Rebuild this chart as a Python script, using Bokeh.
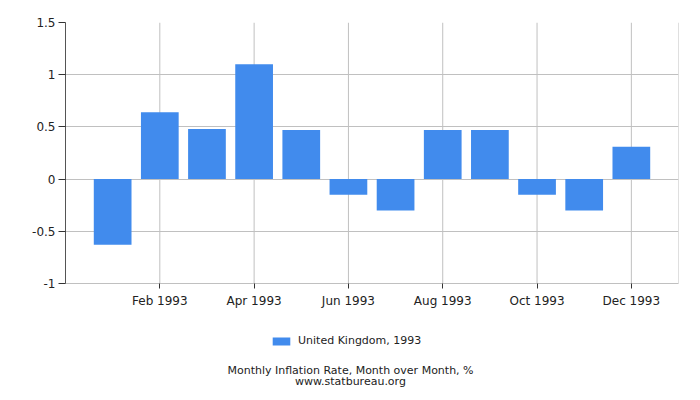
from bokeh.plotting import figure
from bokeh.models import Range1d, FixedTicker, Legend, LegendItem, Label, ColumnDataSource
from bokeh.embed import file_html
from bokeh.resources import INLINE

months = ["Jan 1993", "Feb 1993", "Mar 1993", "Apr 1993", "May 1993", "Jun 1993",
          "Jul 1993", "Aug 1993", "Sep 1993", "Oct 1993", "Nov 1993", "Dec 1993"]
values = [-0.63, 0.64, 0.48, 1.10, 0.47, -0.15, -0.30, 0.47, 0.47, -0.15, -0.30, 0.31]
y_ticks = [-1, -0.5, 0, 0.5, 1, 1.5]
y_tick_labels = ["-1", "-0.5", "0", "0.5", "1", "1.5"]
series_name = "United Kingdom, 1993"
title_text = "Monthly Inflation Rate, Month over Month, %"
source_text = "www.statbureau.org"

FONT = "DejaVu Sans"
BAR = "#418BED"
GRID = "#c0c0c0"

X_MIN, X_MAX = 0, len(months) + 1
Y_MIN, Y_MAX = y_ticks[0], y_ticks[-1]
FRAME_H = 370
PLOT_H = 261
y_start = Y_MAX - (Y_MAX - Y_MIN) * FRAME_H / PLOT_H

xs = list(range(1, len(months) + 1))
src = ColumnDataSource(dict(x=xs, top=values, label=months))

p = figure(frame_width=613, frame_height=FRAME_H, output_backend="svg", toolbar_location=None,
           x_range=Range1d(X_MIN, X_MAX), y_range=Range1d(y_start, Y_MAX),
           min_border_left=65, min_border_right=22, min_border_top=22, min_border_bottom=0)
p.background_fill_color = "white"
p.border_fill_color = "white"
p.outline_line_color = None

tick_x = xs[1::2]
vx = tick_x + [X_MAX]
p.segment(x0=vx, y0=[Y_MIN] * len(vx), x1=vx, y1=[Y_MAX] * len(vx),
          line_color=GRID, line_width=1)

r = p.vbar(x="x", top="top", bottom=0, width=0.8, source=src, fill_color=BAR, line_color=None)

p.xaxis.ticker = FixedTicker(ticks=tick_x)
p.xaxis.major_label_overrides = {x: months[x - 1] for x in tick_x}
p.xaxis.fixed_location = Y_MIN
p.xaxis.bounds = (X_MIN, X_MAX)
p.xgrid.visible = False
p.yaxis.ticker = FixedTicker(ticks=y_ticks)
p.yaxis.major_label_overrides = {t: l for t, l in zip(y_ticks, y_tick_labels)}
p.yaxis.bounds = (Y_MIN, Y_MAX)
p.ygrid.ticker = FixedTicker(ticks=y_ticks)
p.ygrid.grid_line_color = GRID

for ax in (p.xaxis[0], p.yaxis[0]):
    ax.major_label_text_font = FONT
    ax.major_label_text_font_size = "12px"
    ax.major_label_text_color = "#222222"
    ax.minor_tick_line_color = None
    ax.major_tick_in = 0
    ax.major_tick_line_color = "#333333"
p.xaxis.axis_line_color = GRID
p.yaxis.axis_line_color = "#555555"
p.xaxis.major_tick_out = 5
p.yaxis.major_tick_out = 7
p.xaxis.major_label_standoff = 5
p.yaxis.major_label_standoff = 3

legend = Legend(items=[LegendItem(label=series_name, renderers=[r])],
                orientation="horizontal", location=(205, 45),
                label_text_font=FONT, label_text_font_size="11px",
                label_text_color="#222222", border_line_color=None,
                background_fill_alpha=0,
                glyph_width=22, glyph_height=10, label_standoff=6,
                margin=0, padding=4)
p.add_layout(legend, "center")

for txt, yy in ((title_text, 22), (source_text, 11)):
    p.add_layout(Label(x=285, y=yy, x_units="screen", y_units="screen", text=txt,
                       text_align="center", text_baseline="middle", text_font=FONT,
                       text_font_size="11px", text_color="#222222"))

open("out.html", "w").write(file_html(p, INLINE))
